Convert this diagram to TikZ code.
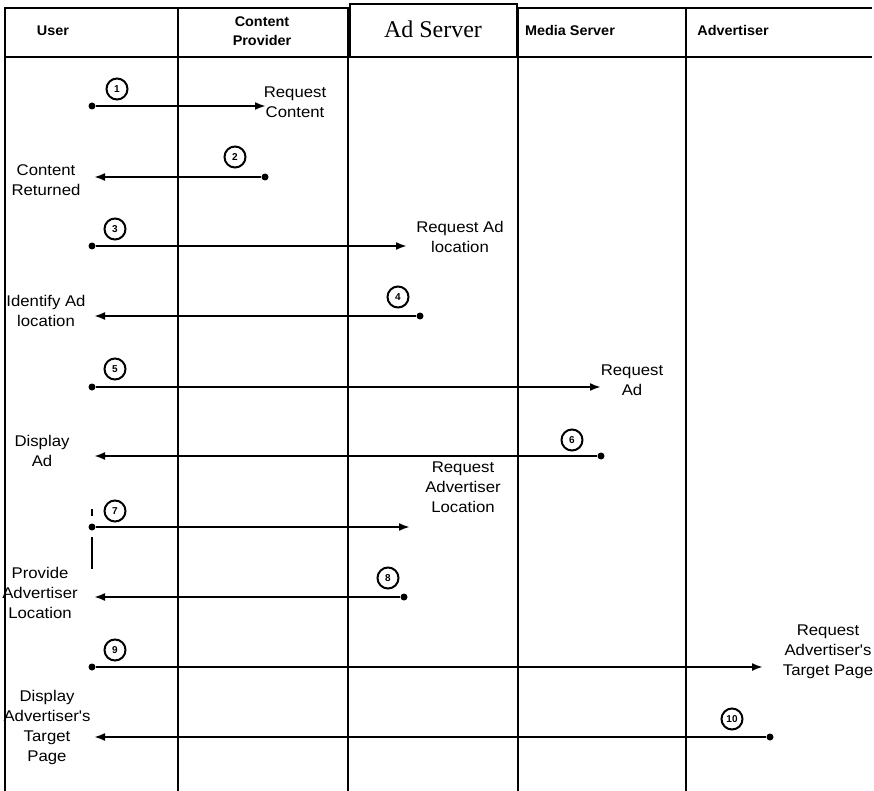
\documentclass[tikz,border=0pt]{standalone}
\usepackage{fontspec}
\setmainfont{Liberation Sans}
\newfontfamily\adfont{Liberation Serif}
\newfontfamily\labfont[FakeStretch=1.08]{Liberation Sans}
\newfontfamily\headfont[FakeStretch=1.03]{Liberation Sans}
\usetikzlibrary{arrows.meta}
\begin{document}
\begin{tikzpicture}[x=1pt,y=-1pt,
 grid/.style={line width=1.6pt},
 msg/.style={line width=2pt,-{Latex[length=11pt,width=8pt]}},
 src/.style={circle,fill,inner sep=0pt,minimum size=7pt},
 num/.style={circle,draw,line width=2pt,inner sep=0pt,minimum size=21pt,font=\fontsize{10}{10}\selectfont\bfseries},
 lab/.style={align=center,font=\labfont\fontsize{15.5}{20}\selectfont,inner sep=0pt},
 head/.style={align=center,font=\headfont\fontsize{14}{19}\selectfont\bfseries,inner sep=0pt}]
\useasboundingbox (0,0) rectangle (874,791);
% grid
\draw[grid] (5,791) -- (5,8) -- (872,8);
\draw[grid] (5,57) -- (872,57);
\foreach \x in {178,348,518,686} \draw[grid] (\x,8) -- (\x,791);
\draw[line width=2pt,fill=white] (350,4) rectangle (517,57);
% headers
\node[head] (hUser) at (53,31) {User};
\node[head] (hCP) at (262,31) {Content\\Provider};
\node[inner sep=0pt,font=\adfont\fontsize{24}{24}\selectfont] (hAd) at (433,29) {Ad Server};
\node[head] (hMS) at (570,31) {Media Server};
\node[head] (hAdv) at (733,31) {Advertiser};
% message 1
\node[src] (s1) at (92,106) {};
\coordinate (e1) at (266,106);
\draw[msg] (s1) -- (e1);
\node[num] (n1) at (117,89) {1};
\node[lab] (l1) at (295,102) {Request\\Content};
% message 2
\node[src] (s2) at (265,177) {};
\coordinate (e2) at (94,177);
\draw[msg] (s2) -- (e2);
\node[num] (n2) at (235,157) {2};
\node[lab] (l2) at (46,180) {Content\\Returned};
% message 3
\node[src] (s3) at (92,246) {};
\coordinate (e3) at (407,246);
\draw[msg] (s3) -- (e3);
\node[num] (n3) at (115,229) {3};
\node[lab] (l3) at (460,237) {Request Ad\\location};
% message 4
\node[src] (s4) at (420,316) {};
\coordinate (e4) at (94,316);
\draw[msg] (s4) -- (e4);
\node[num] (n4) at (398,297) {4};
\node[lab] (l4) at (46,311) {Identify Ad\\location};
% message 5
\node[src] (s5) at (92,387) {};
\coordinate (e5) at (601,387);
\draw[msg] (s5) -- (e5);
\node[num] (n5) at (115,369) {5};
\node[lab] (l5) at (632,380) {Request\\Ad};
% message 6
\node[src] (s6) at (601,456) {};
\coordinate (e6) at (94,456);
\draw[msg] (s6) -- (e6);
\node[num] (n6) at (572,440) {6};
\node[lab] (l6) at (42,451) {Display\\Ad};
% message 7
\node[src] (s7) at (92,527) {};
\coordinate (e7) at (410,527);
\draw[msg] (s7) -- (e7);
\node[num] (n7) at (115,511) {7};
\node[lab] (l7) at (463,487) {Request\\Advertiser\\Location};
\coordinate (t7a) at (92,509);
\coordinate (t7b) at (92,516);
\draw[line width=1.2pt] (t7a) -- (t7b);
\coordinate (t7c) at (92,537);
\coordinate (t7d) at (92,569);
\draw[line width=1.2pt] (t7c) -- (t7d);
% message 8
\node[src] (s8) at (404,597) {};
\coordinate (e8) at (94,597);
\draw[msg] (s8) -- (e8);
\node[num] (n8) at (388,578) {8};
\node[lab] (l8) at (40,593) {Provide\\Advertiser\\Location};
% message 9
\node[src] (s9) at (92,667) {};
\coordinate (e9) at (763,667);
\draw[msg] (s9) -- (e9);
\node[num] (n9) at (115,650) {9};
\node[lab] (l9) at (828,652) {Request\\Advertiser's\\Target Page};
% message 10
\node[src] (s10) at (770,737) {};
\coordinate (e10) at (94,737);
\draw[msg] (s10) -- (e10);
\node[num] (n10) at (732,719) {10};
\node[lab] (l10) at (47,727) {Display\\Advertiser's\\Target\\Page};
\end{tikzpicture}
\end{document}
